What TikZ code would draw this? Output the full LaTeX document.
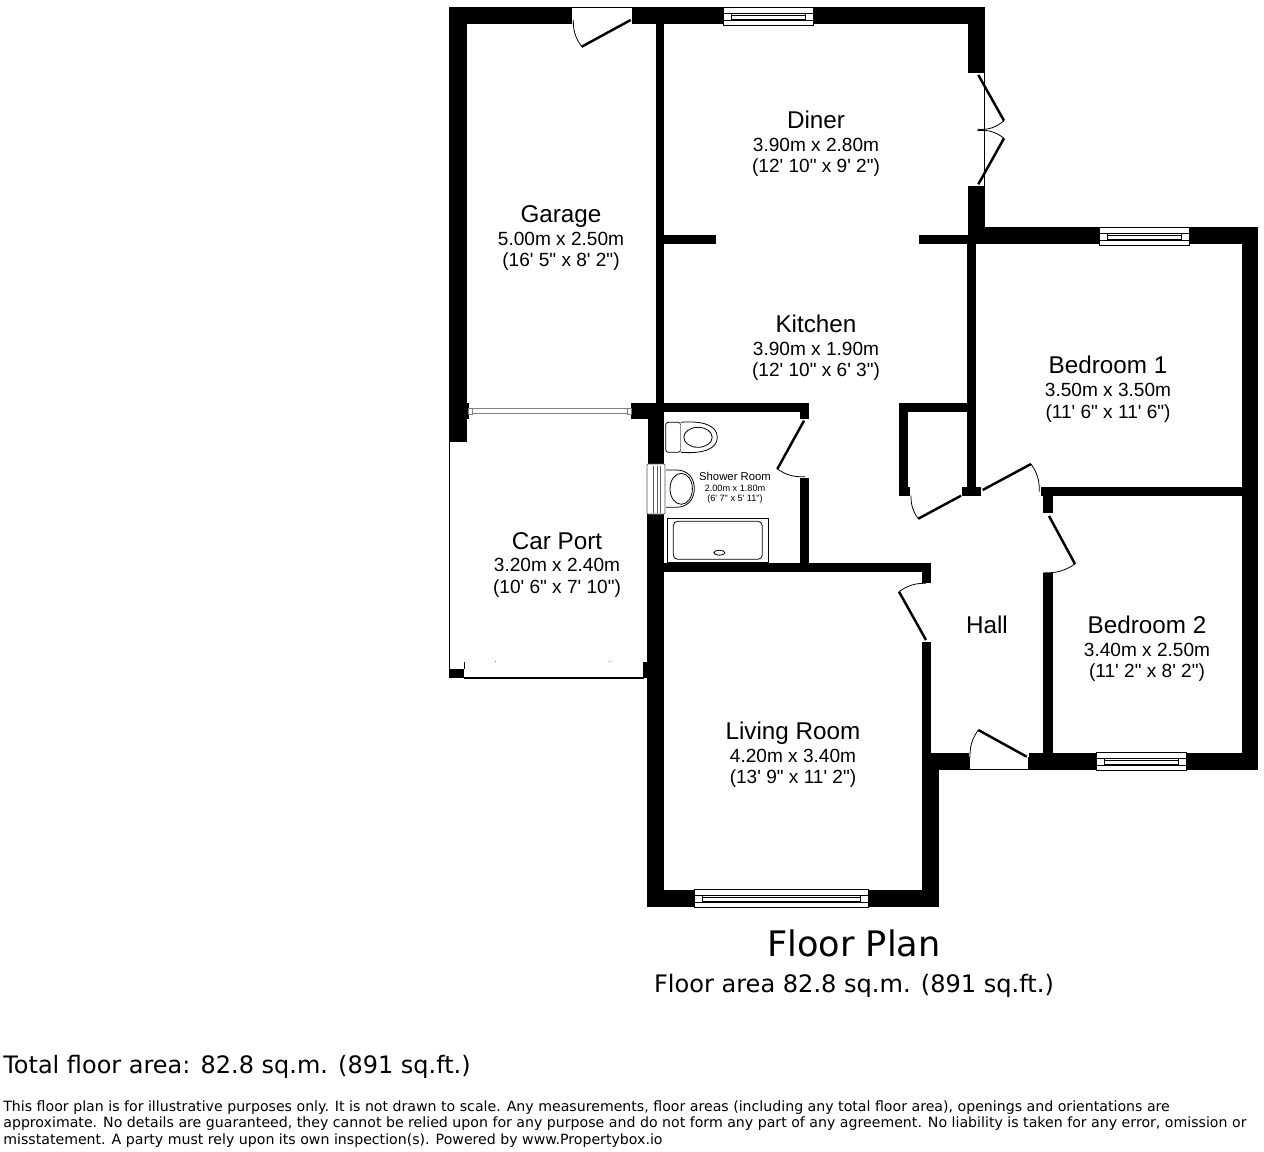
\documentclass[tikz,border=0pt]{standalone}
\usepackage{fontspec}
\newfontfamily\planfont{Liberation Sans}
\newfontfamily\notefont{DejaVu Sans}
\tikzset{
  wall/.style={fill=black, draw=none},
  leaf/.style={line width=1.4pt},
  swing/.style={line width=0.45pt},
  fitting/.style={draw=black, line width=0.45pt, fill=white},
  roomname/.style={font=\planfont\fontsize{13.8}{14}\selectfont, anchor=base, inner sep=0pt},
  roomsize/.style={font=\planfont\fontsize{10.85}{12}\selectfont, anchor=base, inner sep=0pt},
  note/.style={font=\notefont\fontsize{8.05}{9}\selectfont, anchor=base west, inner sep=0pt},
}
% window across a horizontal wall: left, right, top of wall
\newcommand{\hwindow}[3]{
  \draw[fitting] (#1, #3) rectangle (#2, #3+18);
  \draw[swing] (#1, #3+6) -- (#2, #3+6);
  \draw[swing] (#1, #3+13) -- (#2, #3+13);
  \draw[fitting] (#1+8, #3+8.5) rectangle (#2-8, #3+12);
  \draw[swing] (#1+8, #3+6) -- (#1+8, #3+13);
  \draw[swing] (#2-8, #3+6) -- (#2-8, #3+13);
}
\begin{document}
\begin{tikzpicture}[x=0.02cm, y=-0.02cm]
  \useasboundingbox (0, 0) rectangle (1264, 1152);
  % \draw[help lines, step=100] (0, 0) grid (1264, 1152);

  % outer walls
  \fill[wall] (449, 7) rectangle (572, 24); % garage top
  \fill[wall] (632, 7) rectangle (985, 24); % garage, diner top
  \fill[wall] (449, 24) rectangle (467, 442); % garage left
  \fill[wall] (968, 24) rectangle (985, 73); % diner right
  \fill[wall] (968, 186) rectangle (985, 244);
  \fill[wall] (968, 227) rectangle (1258, 244); % bedroom 1 top
  \fill[wall] (1242, 227) rectangle (1258, 770); % bedrooms right
  \fill[wall] (1029, 753) rectangle (1258, 770); % bedroom 2 bottom
  \fill[wall] (922, 753) rectangle (969, 770); % hall bottom
  \fill[wall] (922, 770) rectangle (939, 907); % living room right
  \fill[wall] (647, 890) rectangle (939, 907); % living room bottom
  \fill[wall] (647, 514) rectangle (664, 907); % living room left
  \fill[wall] (648, 403) rectangle (664, 464); % shower room left

  % inner walls
  \fill[wall] (656, 24) rectangle (664, 405); % garage, kitchen
  \fill[wall] (664, 235) rectangle (716, 244); % kitchen, diner
  \fill[wall] (919, 235) rectangle (968, 244);
  \fill[wall] (967, 244) rectangle (976, 487); % kitchen, bedroom 1
  \fill[wall] (962, 487) rectangle (981, 496);
  \fill[wall] (899, 403) rectangle (967, 412); % cupboard
  \fill[wall] (899, 412) rectangle (908, 487);
  \fill[wall] (899, 487) rectangle (910, 496);
  \fill[wall] (1041, 487) rectangle (1242, 496); % bedroom 1, bedroom 2
  \fill[wall] (1043, 496) rectangle (1053, 513);
  \fill[wall] (1043, 573) rectangle (1053, 753); % hall, bedroom 2
  \fill[wall] (631, 403) rectangle (809, 412); % shower room top
  \fill[wall] (631, 412) rectangle (648, 419);
  \fill[wall] (800, 412) rectangle (809, 419);
  \fill[wall] (800, 478) rectangle (809, 563);
  \fill[wall] (664, 563) rectangle (931, 572); % shower room, living room
  \fill[wall] (922, 572) rectangle (931, 583);
  \fill[wall] (922, 642) rectangle (931, 753);
  \fill[wall] (467, 403) rectangle (469, 419);

  % car port
  \draw[swing] (449.7, 442) -- (449.7, 670);
  \fill[wall] (449, 669) rectangle (464, 678);
  \draw[swing] (464, 662) -- (464, 669);
  \draw[line width=0.8pt] (464, 678) -- (644, 678);
  \fill[wall] (643, 662) rectangle (647.5, 678);
  \fill[gray] (494.5, 661) rectangle (495.5, 662);
  \fill[gray] (609, 661) rectangle (610, 662);
  % sliding door
  \draw[gray, line width=0.5pt] (468, 408) -- (631, 408);
  \draw[gray, line width=0.5pt] (468, 413) -- (631, 413);
  \draw[fitting, draw=gray] (468, 408) rectangle (472, 414);
  \draw[fitting, draw=gray] (627, 408) rectangle (631, 414);

  % windows
  \hwindow{723}{813}{7}
  \hwindow{1099}{1189}{227}
  \hwindow{1096}{1186}{752}
  \hwindow{694}{868}{889}
  \draw[fitting, draw=gray!70!black, rounded corners=0.5] (647, 464) rectangle (665, 514);
  \draw[swing, gray!70!black] (653.5, 466) -- (653.5, 513);
  \draw[swing, gray!70!black] (660, 466) -- (660, 513);
  \draw[swing, gray!70!black] (657, 466) -- (657, 513);

  % door openings
  \draw[swing] (572.3, 7) -- (632, 7);
  \draw[swing] (984.3, 73) -- (984.3, 186);
  \draw[swing] (969.5, 757) -- (969.5, 769.5) -- (1028.5, 769.5) -- (1028.5, 757);

  % doors
  \draw[leaf] (630.7, 20) -- (581.7, 46.7); % garage
  \draw[swing] (581.7, 46.7) to[bend left=18] (573.3, 20);
  \draw[leaf] (978.3, 75) -- (1004, 120.7); % diner
  \draw[swing] (1004, 120.7) to[bend left=22] (977.3, 129.3);
  \draw[leaf] (978.3, 184.3) -- (1004, 138.3);
  \draw[swing] (1004, 138.3) to[bend right=22] (977.3, 130.7);
  \draw[leaf] (804, 420.7) -- (777.3, 469); % shower room
  \draw[swing] (777.3, 469) to[bend right=18] (805, 476.7);
  \draw[leaf] (961, 495.7) -- (918.3, 518.7); % cupboard
  \draw[swing] (918.3, 518.7) to[bend left=18] (911, 495.7);
  \draw[leaf] (982.7, 490) -- (1031, 464); % bedroom 1
  \draw[swing] (1031, 464) to[bend left=18] (1039.3, 491.7);
  \draw[leaf] (1049, 516) -- (1075, 564); % bedroom 2
  \draw[swing] (1075, 564) to[bend left=18] (1043.3, 572.7);
  \draw[leaf] (926, 640) -- (899, 591.7); % living room
  \draw[swing] (899, 591.7) to[bend left=18] (926, 583.3);
  \draw[leaf] (1026.7, 756.7) -- (978.3, 730); % front door
  \draw[swing] (978.3, 730) to[bend right=18] (970, 757.3);

  % shower room fittings
  \draw[fitting, rounded corners=1.5] (665.7, 422.3) rectangle (680.7, 452.3);
  \draw[fitting] (680.7, 422.3) .. controls (702, 420.5) and (717.3, 425) .. (717.3, 437.3) .. controls (717.3, 449.5) and (702, 454) .. (680.7, 452.3);
  \draw[swing] (698, 437.3) ellipse (14.2 and 10);
  \draw[fitting] (666, 470) -- (676, 470) .. controls (688, 470) and (694.3, 478) .. (694.3, 488.6) .. controls (694.3, 499) and (688, 507.3) .. (676, 507.3) -- (666, 507.3);
  \draw[swing] (681.2, 488.8) ellipse (11.2 and 15.5);
  \draw[fitting] (667, 518.3) rectangle (768.3, 562.3);
  \draw[swing, rounded corners=2.5] (673.3, 521.3) rectangle (762.3, 559.3);
  \draw[swing] (719.3, 552.7) ellipse (5.5 and 2.5);

  % room labels
  \node[roomname] (garagename) at (561, 222.5) {Garage};
  \node[roomsize] (garagesize) at (561, 245.5) {5.00m x 2.50m};
  \node[roomsize] (garageimp) at (561, 266.5) {(16' 5" x 8' 2")};
  \node[roomname] (dinername) at (816, 128.3) {Diner};
  \node[roomsize] (dinersize) at (816, 152) {3.90m x 2.80m};
  \node[roomsize] (dinerimp) at (816, 173) {(12' 10" x 9' 2")};
  \node[roomname] (kitchenname) at (816, 332.3) {Kitchen};
  \node[roomsize] (kitchensize) at (816, 355.5) {3.90m x 1.90m};
  \node[roomsize] (kitchenimp) at (816, 376.5) {(12' 10" x 6' 3")};
  \node[roomname] (bedonename) at (1108, 373.3) {Bedroom 1};
  \node[roomsize] (bedonesize) at (1108, 396.5) {3.50m x 3.50m};
  \node[roomsize] (bedoneimp) at (1108, 418.5) {(11' 6" x 11' 6")};
  \node[roomname] (carportname) at (557, 549.5) {Car Port};
  \node[roomsize] (carportsize) at (557, 571.5) {3.20m x 2.40m};
  \node[roomsize] (carportimp) at (557, 593) {(10' 6" x 7' 10")};
  \node[roomname] (hallname) at (987, 633) {Hall};
  \node[roomname] (bedtwoname) at (1147, 633) {Bedroom 2};
  \node[roomsize] (bedtwosize) at (1147, 656) {3.40m x 2.50m};
  \node[roomsize] (bedtwoimp) at (1147, 677.5) {(11' 2" x 8' 2")};
  \node[roomname] (livingname) at (793, 739) {Living Room};
  \node[roomsize] (livingsize) at (793, 762) {4.20m x 3.40m};
  \node[roomsize] (livingimp) at (793, 783) {(13' 9" x 11' 2")};
  \node[font=\planfont\fontsize{6.45}{7}\selectfont, anchor=base, inner sep=0pt] (showername) at (735, 480) {Shower Room};
  \node[font=\planfont\fontsize{5.2}{6}\selectfont, anchor=base, inner sep=0pt] (showersize) at (735, 491.7) {2.00m x 1.80m};
  \node[font=\planfont\fontsize{5.2}{6}\selectfont, anchor=base, inner sep=0pt] (showerimp) at (735, 501.7) {(6' 7" x 5' 11")};

  % captions
  \node[font=\notefont\fontsize{20}{22}\selectfont, inner sep=0pt] (plantitle) at (854, 943) {Floor Plan};
  \node[font=\notefont\fontsize{13.7}{15}\selectfont, inner sep=0pt] (planarea) at (854, 985.5) {Floor area 82.8 sq.m. (891 sq.ft.)};
  \node[font=\notefont\fontsize{13.65}{15}\selectfont, anchor=base west, inner sep=0pt] (totalarea) at (3, 1073) {Total floor area: 82.8 sq.m. (891 sq.ft.)};
  \node[note] (noteone) at (3, 1111) {This floor plan is for illustrative purposes only. It is not drawn to scale. Any measurements, floor areas (including any total floor area), openings and orientations are};
  \node[note] (notetwo) at (3, 1127.5) {approximate. No details are guaranteed, they cannot be relied upon for any purpose and do not form any part of any agreement. No liability is taken for any error, omission or};
  \node[note] (notethree) at (3, 1144) {misstatement. A party must rely upon its own inspection(s). Powered by www.Propertybox.io};
\end{tikzpicture}
\end{document}
